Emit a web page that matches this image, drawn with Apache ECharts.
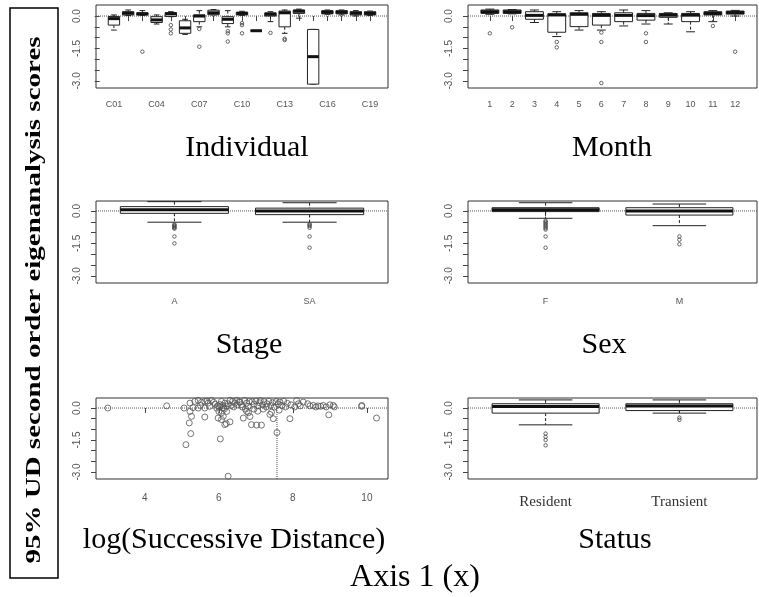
<!DOCTYPE html>
<html><head><meta charset="utf-8">
<script src="https://cdn.jsdelivr.net/npm/echarts@6/dist/echarts.min.js"></script>
<style>html,body{margin:0;padding:0;background:#fff}#c{width:759px;height:597px}</style>
</head><body><div id="c"></div>
<script>
// ---------------- DATA ----------------
const individualCats = ['C01','C02','C03','C04','C05','C06','C07','C08','C09','C10','C11','C12','C13','C14','C15','C16','C17','C18','C19'];
const individualLabelCats = ['C01','C04','C07','C10','C13','C16','C19'];
// [lower whisker, Q1, median, Q3, upper whisker]
const individualStats = [
  [-0.65,-0.42,-0.12,-0.02,0.05],
  [0.02,0.05,0.13,0.20,0.28],
  [0.03,0.05,0.10,0.15,0.25],
  [-0.37,-0.30,-0.18,-0.03,0.05],
  [-0.03,-0.02,0.10,0.16,0.20],
  [-0.85,-0.80,-0.55,-0.22,-0.15],
  [-0.50,-0.26,0.00,0.05,0.25],
  [0.05,0.06,0.15,0.27,0.30],
  [-0.50,-0.35,-0.15,-0.03,0.25],
  [0.03,0.05,0.12,0.18,0.22],
  [-0.68,-0.68,-0.68,-0.68,-0.68],
  [-0.26,0.00,0.08,0.15,0.20],
  [-0.80,-0.50,0.15,0.23,0.28],
  [-0.10,0.12,0.22,0.28,0.32],
  [-3.15,-3.15,-1.88,-0.62,-0.62],
  [0.08,0.10,0.17,0.25,0.28],
  [0.05,0.10,0.17,0.25,0.28],
  [0.00,0.05,0.13,0.20,0.25],
  [0.02,0.05,0.12,0.20,0.23]
];
const individualOutliers = [[],[],[-1.65],[],[-0.42,-0.62,-0.80],[],[-0.60,-1.42],[],[-0.70,-0.80,-1.18],[-0.33,-0.42,-0.80],[],[-0.78],[-1.05,-1.11],[],[],[],[],[],[]];

const monthCats = ['1','2','3','4','5','6','7','8','9','10','11','12'];
const monthStats = [
  [0.08,0.12,0.20,0.28,0.32],
  [0.10,0.12,0.20,0.28,0.30],
  [-0.30,-0.15,0.03,0.20,0.28],
  [-0.95,-0.75,0.05,0.10,0.20],
  [-0.65,-0.49,0.08,0.15,0.25],
  [-0.65,-0.42,0.03,0.12,0.20],
  [-0.46,-0.26,0.03,0.15,0.28],
  [-0.37,-0.19,0.02,0.12,0.25],
  [-0.37,-0.06,0.04,0.12,0.15],
  [-0.73,-0.26,0.04,0.12,0.20],
  [-0.26,0.05,0.12,0.20,0.25],
  [0.00,0.09,0.16,0.23,0.26]
];
const monthOutliers = [[-0.80],[-0.52],[],[-1.20,-1.45],[],[-0.76,-1.20,-3.10],[],[-0.80,-1.20],[],[],[-0.46],[-1.65]];

const stageCats = ['A','SA'];
const stageStats = [[-0.52,-0.11,0.05,0.20,0.43],[-0.52,-0.17,0.00,0.13,0.38]];
const stageOutliers = [[-0.62,-0.66,-0.70,-0.74,-0.78,-0.82,-1.18,-1.50],[-0.60,-0.65,-0.70,-0.78,-1.18,-1.70]];

const sexCats = ['F','M'];
const sexStats = [[-0.34,-0.03,0.05,0.15,0.38],[-0.68,-0.19,0.00,0.15,0.32]];
const sexOutliers = [[-0.45,-0.50,-0.56,-0.62,-0.68,-0.74,-0.80,-0.86,-1.18,-1.70],[-1.18,-1.33,-1.54]];

const statusCats = ['Resident','Transient'];
const statusStats = [[-0.79,-0.24,0.07,0.20,0.38],[-0.24,-0.12,0.10,0.20,0.38]];
const statusOutliers = [[-1.20,-1.35,-1.50,-1.75],[-0.45,-0.55]];

// log(Successive Distance) vs score
const distX = [3.0,4.59,5.06,5.22,5.22,5.26,5.20,5.24,5.11,5.62,5.98,6.04,6.25,6.16,6.20,6.30,6.66,6.88,7.02,7.15,6.84,7.47,7.57,7.92,8.97,10.26,9.86,9.86,
  5.35,5.44,5.53,5.62,5.71,5.80,5.86,5.75,5.62,5.44,5.30,5.94,6.03,6.07,6.12,6.16,6.21,6.30,6.37,6.43,6.48,6.57,6.61,6.70,6.75,6.79,6.82,6.00,6.07,6.21,6.12,6.07,6.75,
  5.97,6.02,6.10,6.15,6.25,6.33,6.40,6.50,6.55,6.63,5.90,5.68,5.50,
  6.90,6.95,7.00,7.05,7.10,7.12,7.18,7.22,7.28,7.30,7.35,7.40,7.45,7.50,7.55,7.60,7.63,7.65,7.70,7.75,7.80,7.85,7.42,7.38,6.72,6.80,6.95,
  8.10,8.15,8.20,8.28,8.05,8.46,8.55,8.62,8.68,8.75,8.82,8.90,9.00,9.09,9.12,8.40,7.95,7.05,7.20];
const distY = [0.0,0.10,0.0,0.23,-0.16,-0.39,-0.70,-1.20,-1.72,-0.42,-0.47,-1.45,-3.20,-0.78,-0.73,-0.65,-0.47,-0.78,-0.80,-0.80,-0.40,-0.50,-1.15,-0.50,-0.32,-0.47,0.08,0.12,
  0.31,0.36,0.27,0.31,0.23,0.36,0.27,0.08,0.0,0.0,0.02,0.0,0.16,0.31,0.0,0.23,0.08,0.36,0.31,0.23,0.36,0.27,0.16,0.36,0.23,0.08,0.31,-0.16,-0.23,-0.16,-0.39,-0.54,-0.16,
  0.10,0.05,0.12,-0.05,0.20,0.12,0.05,0.15,0.30,0.05,0.18,0.33,0.12,
  0.30,0.18,0.33,0.10,0.25,0.35,0.15,0.30,0.05,0.20,0.32,0.12,0.25,0.05,0.30,0.18,-0.10,0.28,0.12,0.32,0.05,0.22,-0.20,-0.30,-0.05,-0.22,-0.05,
  0.35,0.20,0.10,0.28,0.05,0.10,0.12,0.05,0.10,0.08,0.12,0.05,0.15,0.12,0.05,0.20,0.15,-0.15,-0.05];
const distXTicks = [4,6,8,10];
const distVLine = 7.57;

const yTicks = [0,-0.5,-1,-1.5,-2,-2.5,-3];
const yTickLabels = [0,-1.5,-3];

const panelTitles = ['Individual','Month','Stage','Sex','log(Successive Distance)','Status'];
const xAxisTitle = 'Axis 1 (x)';
const yAxisTitle = '95% UD second order eigenanalysis scores';

// ---------------- LAYOUT ----------------
const grids = [
  {left:96, top:5, width:292, height:83},
  {left:468, top:5, width:289, height:83},
  {left:96, top:201, width:292, height:82},
  {left:468, top:201, width:289, height:82},
  {left:96, top:398, width:292, height:81},
  {left:468, top:398, width:289, height:81}
];
const yMax = [0.51,0.51,0.46,0.46,0.47,0.47];
const yMin = -3.33;
const INK = '#222';
const LBL = '#555';

function catRange(n){ return [0.5-0.04*n, n+0.5+0.04*n]; }

function renderBox(params, api){
  const x = api.value(0), lo = api.value(1), q1 = api.value(2), med = api.value(3), q3 = api.value(4), hi = api.value(5);
  const hw = 0.4, sw = 0.2;
  const a = api.coord([x-hw, q3]), b = api.coord([x+hw, q1]);
  const m1 = api.coord([x-hw, med]), m2 = api.coord([x+hw, med]);
  const ch = api.coord([x, hi]), c3 = api.coord([x, q3]), c1 = api.coord([x, q1]), cl = api.coord([x, lo]);
  const s1 = api.coord([x-sw, hi]), s2 = api.coord([x+sw, hi]);
  const t1 = api.coord([x-sw, lo]), t2 = api.coord([x+sw, lo]);
  return {type:'group', children:[
    {type:'line', shape:{x1:ch[0],y1:ch[1],x2:c3[0],y2:c3[1]}, style:{stroke:INK,lineWidth:1,lineDash:[3,2]}},
    {type:'line', shape:{x1:c1[0],y1:c1[1],x2:cl[0],y2:cl[1]}, style:{stroke:INK,lineWidth:1,lineDash:[3,2]}},
    {type:'line', shape:{x1:s1[0],y1:s1[1],x2:s2[0],y2:s2[1]}, style:{stroke:INK,lineWidth:1}},
    {type:'line', shape:{x1:t1[0],y1:t1[1],x2:t2[0],y2:t2[1]}, style:{stroke:INK,lineWidth:1}},
    {type:'rect', shape:{x:a[0],y:a[1],width:b[0]-a[0],height:Math.max(b[1]-a[1],0.01)}, style:{fill:'#fff',stroke:INK,lineWidth:1}},
    {type:'line', shape:{x1:m1[0],y1:m1[1],x2:m2[0],y2:m2[1]}, style:{stroke:'#111',lineWidth:3}}
  ]};
}

const xAxes = [], yAxes = [], series = [];

function addYAxis(i){
  yAxes.push({type:'value', gridIndex:i, min:yMin, max:yMax[i],
    axisLine:{show:false}, splitLine:{show:false},
    axisTick:{show:true, length:5, customValues:yTicks, lineStyle:{color:'#444'}},
    axisLabel:{customValues:yTickLabels, formatter:v=>v.toFixed(1), rotate:90, margin:14, fontSize:10, color:LBL, fontFamily:'Liberation Sans'}});
}

function addBoxPanel(i, cats, labelCats, stats, outliers, labelFont){
  const n = cats.length;
  const r = catRange(n);
  const tickVals = cats.map((c,k)=>k+1);
  const labVals = labelCats.map(c=>cats.indexOf(c)+1);
  xAxes.push({type:'value', gridIndex:i, min:r[0], max:r[1],
    axisLine:{show:false}, splitLine:{show:false},
    axisTick:{show:true, length:5, customValues:tickVals, lineStyle:{color:'#444'}},
    axisLabel:Object.assign({customValues:labVals, formatter:v=>cats[Math.round(v)-1], color:LBL}, labelFont)});
  addYAxis(i);
  series.push({type:'line', xAxisIndex:i, yAxisIndex:i, data:[[r[0],0],[r[1],0]], symbol:'none', silent:true, z:1,
    lineStyle:{type:'dotted', color:'#555', width:1}});
  series.push({type:'custom', xAxisIndex:i, yAxisIndex:i, renderItem:renderBox, z:2,
    encode:{x:0, y:[1,2,3,4,5]}, data: stats.map((s,k)=>[k+1].concat(s))});
  const out = [];
  outliers.forEach((arr,k)=>arr.forEach(v=>out.push([k+1, v])));
  series.push({type:'scatter', xAxisIndex:i, yAxisIndex:i, data:out, symbol:'circle', symbolSize:3.5, z:3,
    itemStyle:{color:'rgba(255,255,255,0)', borderColor:'#444', borderWidth:1}});
}

const sansSmall = {fontSize:9, margin:12, fontFamily:'Liberation Sans'};
addBoxPanel(0, individualCats, individualLabelCats, individualStats, individualOutliers, sansSmall);
addBoxPanel(1, monthCats, monthCats, monthStats, monthOutliers, sansSmall);
addBoxPanel(2, stageCats, stageCats, stageStats, stageOutliers, {fontSize:9, margin:14, fontFamily:'Liberation Sans'});
addBoxPanel(3, sexCats, sexCats, sexStats, sexOutliers, {fontSize:9, margin:14, fontFamily:'Liberation Sans'});

// scatter panel (index 4)
(function(){
  const i = 4;
  const xmin = 2.68, xmax = 10.57;
  xAxes.push({type:'value', gridIndex:i, min:xmin, max:xmax,
    axisLine:{show:false}, splitLine:{show:false},
    axisTick:{show:true, length:5, customValues:distXTicks, lineStyle:{color:'#444'}},
    axisLabel:{customValues:distXTicks, color:LBL, fontSize:10, margin:14, fontFamily:'Liberation Sans'}});
  addYAxis(i);
  series.push({type:'line', xAxisIndex:i, yAxisIndex:i, data:[[xmin,0],[xmax,0]], symbol:'none', silent:true, z:1,
    lineStyle:{type:'dotted', color:'#555', width:1}});
  series.push({type:'line', xAxisIndex:i, yAxisIndex:i, data:[[distVLine,yMin],[distVLine,yMax[i]]], symbol:'none', silent:true, z:1,
    lineStyle:{type:'dotted', color:'#555', width:1}});
  series.push({type:'scatter', xAxisIndex:i, yAxisIndex:i, data:distX.map((x,k)=>[x, distY[k]]), symbol:'circle', symbolSize:6, z:3,
    itemStyle:{color:'rgba(255,255,255,0)', borderColor:'#555', borderWidth:1}});
})();

addBoxPanel(5, statusCats, statusCats, statusStats, statusOutliers, {fontSize:15, margin:16, fontFamily:'Liberation Serif', color:'#333'});

// ---------------- TEXT ----------------
const titleFont = '30px "Liberation Serif"';
const titlePos = [[247,148],[612,148],[249,345],[604,345],[234,540],[615,540]];
const graphics = panelTitles.map((t,k)=>({type:'text', x:titlePos[k][0], y:titlePos[k][1],
  style:{text:t, font:titleFont, fill:'#000', textAlign:'center', textVerticalAlign:'middle'}}));
graphics.push({type:'text', x:415, y:578, style:{text:xAxisTitle, font:'32px "Liberation Serif"', fill:'#000', textAlign:'center', textVerticalAlign:'middle'}});
graphics.push({type:'rect', shape:{x:10, y:8, width:48, height:570}, style:{fill:'none', stroke:'#000', lineWidth:1.5}});
graphics.push({type:'text', x:35, y:300, rotation:Math.PI/2, scaleX:1.45,
  style:{text:yAxisTitle, font:'bold 20px "Liberation Serif"', fill:'#000', textAlign:'center', textVerticalAlign:'middle'}});

const chart = echarts.init(document.getElementById('c'));
chart.setOption({
  animation:false,
  backgroundColor:'#fff',
  grid: grids.map(g=>Object.assign({show:true, borderColor:'#333', borderWidth:1, backgroundColor:'transparent', containLabel:false}, g)),
  xAxis: xAxes,
  yAxis: yAxes,
  series: series,
  graphic: graphics
});
</script>
</body></html>
